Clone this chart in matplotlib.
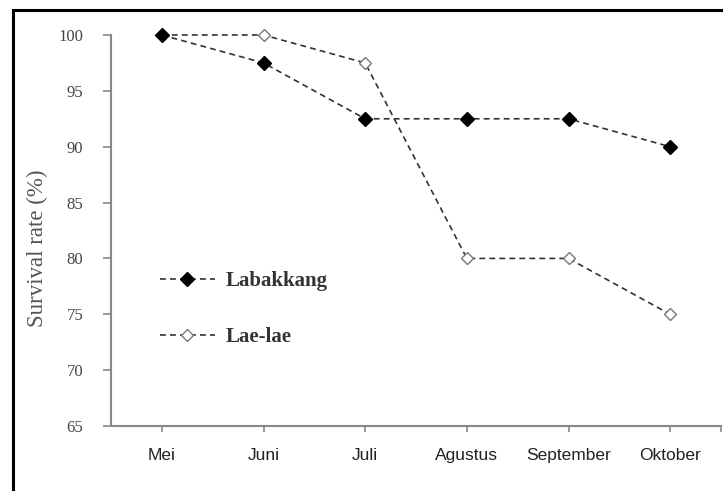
import matplotlib.pyplot as plt
from matplotlib.patches import Rectangle

months = ["Mei", "Juni", "Juli", "Agustus", "September", "Oktober"]
labakkang = [100, 97.5, 92.5, 92.5, 92.5, 90]
lae_lae = [100, 100, 97.5, 80, 80, 75]
y_ticks = [65, 70, 75, 80, 85, 90, 95, 100]

fig = plt.figure(figsize=(7.23, 4.91), dpi=100)
ax = fig.add_axes([111 / 723, 1 - 426 / 491, 610 / 723, 391 / 491])

# outer frame (runs past the right and bottom of the picture)
fig.patches.append(Rectangle((12.5 / 723, -0.05), 1.0, 1 - 10.5 / 491 + 0.05,
                             transform=fig.transFigure, fill=False,
                             edgecolor="black", linewidth=2.2))

x = list(range(len(months)))
ax.plot(x, lae_lae, linestyle=(0, (3.5, 2.5)), color="#333333", linewidth=1.2,
        marker="D", markersize=6.5, markerfacecolor="white", markeredgecolor="#777777",
        markeredgewidth=1.0, label="Lae-lae", clip_on=False, zorder=3)
ax.plot(x, labakkang, linestyle=(0, (3.5, 2.5)), color="#333333", linewidth=1.2,
        marker="D", markersize=7, markerfacecolor="black", markeredgecolor="black",
        label="Labakkang", clip_on=False, zorder=4)

ax.set_xlim(-0.5, 5.5)
ax.set_ylim(65, 100)
ax.set_yticks(y_ticks)
ax.set_yticklabels([str(v) for v in y_ticks], family="Liberation Serif",
                   fontsize=12, color="#444444")
ax.set_xticks(x + [5.5])
ax.set_xticklabels(months + [""], family="Liberation Sans", fontsize=12.5,
                   color="#222222")

for side in ["top", "right"]:
    ax.spines[side].set_visible(False)
for side in ["left", "bottom"]:
    ax.spines[side].set_color("#888888")
    ax.spines[side].set_linewidth(1.5)
ax.tick_params(axis="y", direction="out", length=6, width=1.2, color="#888888", pad=14)
ax.tick_params(axis="x", direction="out", length=4, width=1.2, color="#888888", pad=12)

ax.set_ylabel("Survival rate (%)", family="Liberation Serif", fontsize=16.5,
              color="#555555")
ax.yaxis.set_label_coords(-0.104, 0.455)

handles, labels = ax.get_legend_handles_labels()
leg = ax.legend(handles[::-1], labels[::-1], loc="center left",
                bbox_to_anchor=(0.08, 0.299), frameon=False, borderpad=0,
                borderaxespad=0,
                prop={"family": "Liberation Serif", "size": 15, "weight": "bold"},
                labelspacing=1.75, handlelength=2.65, handletextpad=0.5)
for t in leg.get_texts():
    t.set_color("#333333")

fig.savefig("out.png", dpi=100)
